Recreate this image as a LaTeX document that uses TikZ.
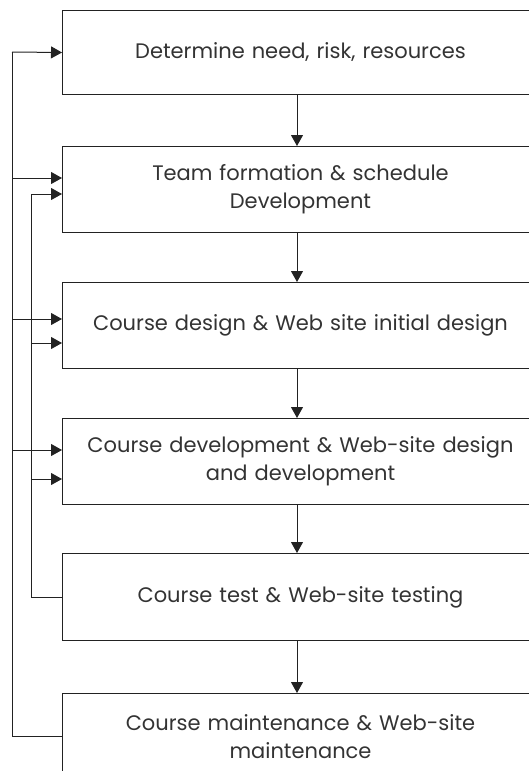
\documentclass[tikz,border=0pt]{standalone}
\usepackage{fontspec}
\setmainfont{Poppins}
\usetikzlibrary{arrows.meta}
\definecolor{ink}{HTML}{222222}
\definecolor{txt}{HTML}{333333}
\tikzset{
  stage/.style={draw=ink, line width=1pt, anchor=north west, minimum width=476pt,
    text width=470pt, align=center, inner sep=0pt, text=txt,
    font=\fontsize{21}{28}\selectfont},
  arr/.style={draw=ink, line width=1pt, -{Triangle[length=11pt,width=12pt]}},
  ln/.style={draw=ink, line width=1pt}
}
\begin{document}
\begin{tikzpicture}[x=1pt,y=-1pt]
\useasboundingbox (0,0) rectangle (529,771);
\clip (0,0) rectangle (529,771);
\node[stage, minimum height=84pt] (b1) at (62,10) {Determine need, risk, resources};
\node[stage, minimum height=86pt] (b2) at (62,146) {Team formation \& schedule\\Development};
\node[stage, minimum height=86pt] (b3) at (62,282) {Course design \& Web site initial design};
\node[stage, minimum height=86pt] (b4) at (62,418) {Course development \& Web-site design\\and development};
\node[stage, minimum height=87pt] (b5) at (62,553) {Course test \& Web-site testing};
\node[stage, minimum height=86pt] (b6) at (62,693) {Course maintenance \& Web-site\\maintenance};
% vertical flow arrows
\foreach \a/\b in {b1/b2,b2/b3,b3/b4,b4/b5,b5/b6}{
  \draw[arr] (\a.south -| 297,0) -- (\b.north -| 297,0);
}
% rail coordinates
\coordinate (o1) at (12,52);
\coordinate (o2) at (12,178);
\coordinate (o3) at (12,319);
\coordinate (o4) at (12,450);
\coordinate (i2) at (31,194);
\coordinate (i3) at (31,343);
\coordinate (i4) at (31,479);
\coordinate (t2) at (62,178);
\coordinate (t3) at (62,319);
\coordinate (t4) at (62,450);
\coordinate (u2) at (62,194);
\coordinate (u3) at (62,343);
\coordinate (u4) at (62,479);
% outer feedback
\draw[ln] (b6.west) -| (o1);
\draw[arr] (o1) -- (b1.west);
\draw[arr] (o2) -- (t2);
\draw[arr] (o3) -- (t3);
\draw[arr] (o4) -- (t4);
% inner feedback
\draw[ln] (b5.west) -| (i2);
\draw[arr] (i2) -- (u2);
\draw[arr] (i3) -- (u3);
\draw[arr] (i4) -- (u4);
\end{tikzpicture}
\end{document}
